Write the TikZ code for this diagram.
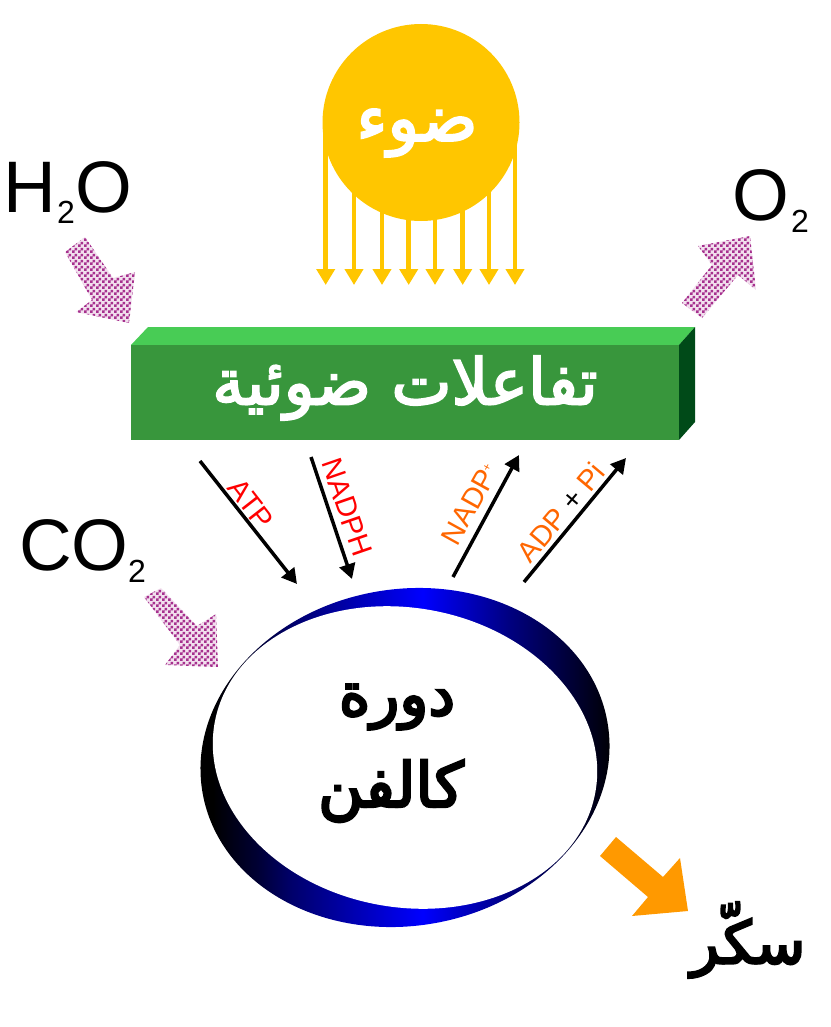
\documentclass[tikz,border=0pt]{standalone}
\usepackage{fontspec}
\usetikzlibrary{patterns,shadings,arrows.meta}
\TeXXeTstate=1
\setmainfont{Liberation Sans}
\newfontfamily\arabicfont[Script=Arabic,FakeBold=3]{DejaVu Sans}
\newfontfamily\arabicblack[Script=Arabic,FakeBold=4]{DejaVu Sans}
\newcommand{\ar}[1]{{\arabicfont\beginR #1\endR}}
\newcommand{\arb}[1]{{\arabicblack\beginR #1\endR}}
\definecolor{sunc}{HTML}{FFC600}
\definecolor{topg}{HTML}{48CC55}
\definecolor{frontg}{HTML}{38963C}
\definecolor{sideg}{HTML}{004A18}
\definecolor{chk}{HTML}{A6308E}
\definecolor{chkl}{HTML}{F2E0EE}
\definecolor{orangec}{HTML}{FF9900}
\definecolor{orangel}{HTML}{FF6600}
\pgfdeclarepatternformonly{chkr}{\pgfqpoint{0pt}{0pt}}{\pgfqpoint{6pt}{6pt}}{\pgfqpoint{6pt}{6pt}}{%
  \pgfpathrectangle{\pgfqpoint{0pt}{0pt}}{\pgfqpoint{3pt}{3pt}}%
  \pgfpathrectangle{\pgfqpoint{3pt}{3pt}}{\pgfqpoint{3pt}{3pt}}%
  \pgfusepath{fill}}
\pgfdeclarehorizontalshading{ringsh}{100bp}{rgb(0bp)=(0,0,0); rgb(28bp)=(0,0,0); rgb(33bp)=(0,0,0.2); rgb(37bp)=(0,0,0.42); rgb(52bp)=(0,0,1); rgb(62bp)=(0,0,0.5); rgb(74bp)=(0,0,0); rgb(100bp)=(0,0,0)}
\tikzset{
  chkarrow/.style={fill=chkl,draw=none,postaction={pattern=chkr,pattern color=chk}},
  sunarrow/.style={draw=sunc,line width=4.5pt,-{Triangle[length=16pt,width=18pt]}},
  cycarrow/.style={draw=black,line width=3.5pt,-{Triangle[length=15pt,width=16pt]}},
  big/.style={font=\fontsize{73}{73}\selectfont,inner sep=0pt,anchor=base west},
  sub/.style={font=\fontsize{32}{32}\selectfont,inner sep=0pt,anchor=base west},
  lab/.style={font=\fontsize{29}{29}\selectfont,inner sep=0pt},
}
\begin{document}
\begin{tikzpicture}[x=1pt,y=-1pt]
\useasboundingbox (0,0) rectangle (830,1027);
% sun rays
\foreach \n/\x in {a/325.7,b/354,c/382,d/408.7,e/435,f/462.7,g/489,h/515}{
  \coordinate (s\n) at (\x,130);
  \coordinate (e\n) at (\x,285);
  \draw[sunarrow] (s\n) -- (e\n);
}
\node[circle,fill=sunc,minimum size=197pt,inner sep=0pt] (sun) at (421,122.5) {};
\node[text=white,font=\fontsize{66}{66}\selectfont] (sunt) at (417,133) {\ar{ضوء}};
% box
\fill[topg] (131,345) -- (148,327) -- (695,327) -- (679,345) -- cycle;
\fill[sideg] (679,345) -- (695,327) -- (695,422) -- (679,440) -- cycle;
\node[fill=frontg,minimum width=548pt,minimum height=95pt,inner sep=0pt,anchor=north west] (box) at (131,345) {};
\node[text=white,font=\fontsize{64}{64}\selectfont] (boxt) at (405,388) {\ar{تفاعلات ضوئية}};
% formulas
\node[big] (h) at (3.5,212) {H};
\node[sub] (h2) at (57,223) {2};
\node[big] (ho) at (75,212) {O};
\node[big] (o) at (732,220) {O};
\node[sub] (o2) at (791,232) {2};
\node[big] (co) at (19,570) {CO};
\node[sub] (c22) at (128,582) {2};
% hatched arrows
\fill[chkarrow] (65,252) -- (85,237) -- (113,278) -- (135,272) -- (129,323) -- (76,312) -- (92,300) -- cycle;
\fill[chkarrow] (144,597) -- (161,588) -- (197,626) -- (216,614) -- (218,667) -- (165,665) -- (180,645) -- cycle;
\fill[chkarrow] (682,303) -- (712,265) -- (698,246) -- (750,236) -- (756,290) -- (738,275) -- (702,318) -- cycle;
% sugar arrow
\fill[orangec] (600,856) -- (616,837) -- (663,877) -- (680,858) -- (688,911) -- (632,916) -- (648,897) -- cycle;
\node[font=\fontsize{59}{59}\selectfont] (sugar) at (748,940) {\arb{سكّر}};
% cycle arrows
\coordinate (a1) at (200,461); \coordinate (a2) at (297,584);
\coordinate (b1) at (311,457); \coordinate (b2) at (352,579);
\coordinate (c1) at (453,577); \coordinate (c2) at (519,455);
\coordinate (d1) at (524,582); \coordinate (d2) at (626,458);
\draw[cycarrow] (a1) -- (a2);
\draw[cycarrow] (b1) -- (b2);
\draw[cycarrow] (c1) -- (c2);
\draw[cycarrow] (d1) -- (d2);
\node[lab,text=red,rotate=-52] (atp) at (251,504) {ATP};
\node[lab,text=red,rotate=-71] (nadph) at (347,507) {NADPH};
\node[lab,text=orangel,rotate=61] (nadp) at (470,504) {NADP\raisebox{9pt}{\fontsize{12}{12}\selectfont +}};
\node[lab,rotate=50] (adp) at (561,512) {\textcolor{orangel}{ADP} + \textcolor{orangel}{Pi}};
% ring
\shade[shading=ringsh,rotate around={9.9:(405,757.5)}] (405,757.5) ellipse (205.5pt and 168.3pt);
\fill[white,rotate around={-10.5:(405,757.5)}] (405,757.5) ellipse (193.5pt and 149.6pt);
\node[font=\fontsize{60}{60}\selectfont] (d) at (397,707) {\arb{دورة}};
\node[font=\fontsize{62}{62}\selectfont] (k) at (391,791) {\arb{كالفن}};
\end{tikzpicture}
\end{document}
